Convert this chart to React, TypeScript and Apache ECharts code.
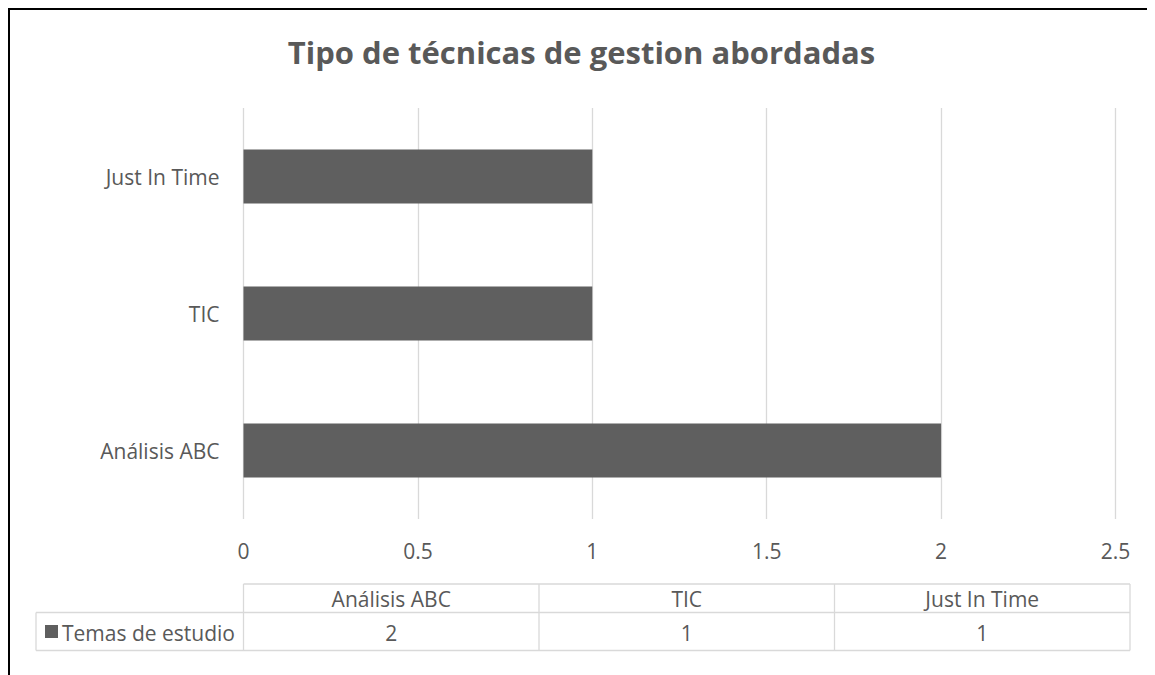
import React, { useEffect, useRef } from "react";
import * as echarts from "echarts";

const categories = ["Análisis ABC", "TIC", "Just In Time"];
const values = [2, 1, 1];
const seriesName = "Temas de estudio";
const titleText = "Tipo de técnicas de gestion abordadas";
const xMin = 0;
const xMax = 2.5;
const xInterval = 0.5;

const FONT = "'Open Sans', 'Noto Sans', sans-serif";
const TEXT = "#595959";
const GRID = "#d9d9d9";
const BAR = "#5f5f5f";
const FS = 21;

export default function App() {
  const ref = useRef<HTMLDivElement>(null);
  useEffect(() => {
    if (!ref.current) return;
    const chart = echarts.init(ref.current, null, { renderer: "svg" });

    // data table layout (chart coordinates)
    const tLeft = 28;
    const colStart = 235.5;
    const colW = 295.5;
    const rowTop = 576;
    const rowMid = 604.5;
    const rowBot = 642.5;
    const tRight = colStart + colW * categories.length;

    const g: any[] = [];
    // border of chart area (top and left)
    g.push({ type: "line", shape: { x1: 0, y1: 1, x2: 1147, y2: 1 }, style: { stroke: "#000", lineWidth: 2 } });
    g.push({ type: "line", shape: { x1: 1, y1: 0, x2: 1, y2: 667 }, style: { stroke: "#000", lineWidth: 2 } });
    // table lines
    const ls = { stroke: GRID, lineWidth: 1.3 };
    g.push({ type: "line", shape: { x1: colStart, y1: rowTop, x2: tRight, y2: rowTop }, style: ls });
    g.push({ type: "line", shape: { x1: tLeft, y1: rowMid, x2: tRight, y2: rowMid }, style: ls });
    g.push({ type: "line", shape: { x1: tLeft, y1: rowBot, x2: tRight, y2: rowBot }, style: ls });
    g.push({ type: "line", shape: { x1: tLeft, y1: rowMid, x2: tLeft, y2: rowBot }, style: ls });
    for (let i = 0; i <= categories.length; i++) {
      const x = colStart + colW * i;
      g.push({ type: "line", shape: { x1: x, y1: rowTop, x2: x, y2: rowBot }, style: ls });
    }
    categories.forEach((c, i) => {
      const cx = colStart + colW * (i + 0.5);
      g.push({
        type: "text",
        x: cx,
        y: (rowTop + rowMid) / 2 + 1,
        style: { text: c, font: `${FS}px ${FONT}`, fill: TEXT, textAlign: "center", textVerticalAlign: "middle" },
      });
      g.push({
        type: "text",
        x: cx,
        y: (rowMid + rowBot) / 2 + 1,
        style: { text: String(values[i]), font: `${FS}px ${FONT}`, fill: TEXT, textAlign: "center", textVerticalAlign: "middle" },
      });
    });
    g.push({ type: "rect", shape: { x: 37, y: 617, width: 13, height: 13 }, style: { fill: BAR } });
    g.push({
      type: "text",
      x: 54,
      y: (rowMid + rowBot) / 2 + 1,
      style: { text: seriesName, font: `${FS}px ${FONT}`, fill: TEXT, textAlign: "left", textVerticalAlign: "middle" },
    });

    chart.setOption({
      animation: false,
      backgroundColor: "#fff",
      title: {
        text: titleText,
        left: "center",
        top: 23,
        textStyle: { fontFamily: FONT, fontSize: 31, fontWeight: "bold", color: TEXT },
      },
      grid: { left: 235.5, right: 39.5, top: 100, bottom: 156, containLabel: false },
      xAxis: {
        type: "value",
        min: xMin,
        max: xMax,
        interval: xInterval,
        axisLine: { show: false },
        axisTick: { show: false },
        splitLine: { show: true, lineStyle: { color: GRID, width: 1.3 } },
        axisLabel: { color: TEXT, fontFamily: FONT, fontSize: FS, margin: 21 },
      },
      yAxis: {
        type: "category",
        data: categories,
        axisLine: { show: false },
        axisTick: { show: false },
        axisLabel: { color: TEXT, fontFamily: FONT, fontSize: FS, margin: 24 },
      },
      series: [
        {
          name: seriesName,
          type: "bar",
          data: values,
          barWidth: 54,
          itemStyle: { color: BAR },
        },
      ],
      graphic: g,
    });
    return () => chart.dispose();
  }, []);
  return <div ref={ref} style={{ width: 1147, height: 667 }} />;
}
